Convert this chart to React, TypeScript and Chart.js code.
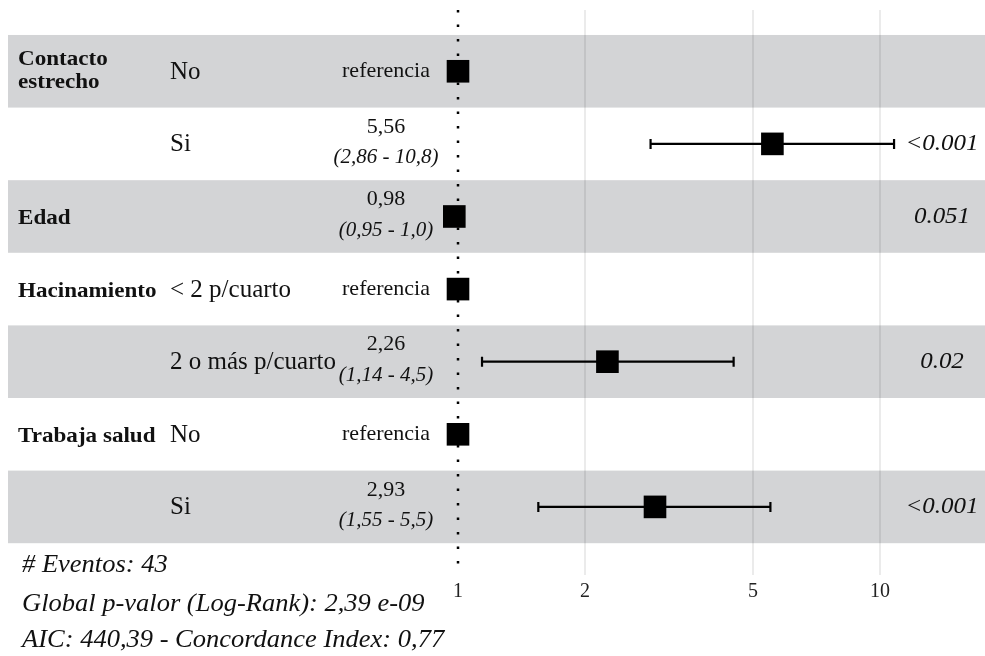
import React, { useEffect, useRef } from "react";
import { Chart, registerables } from "chart.js";

Chart.register(...registerables);

// ---- data ----
const variableNames = ["Contacto\nestrecho", "", "Edad", "Hacinamiento", "", "Trabaja salud", ""];
const levelNames = ["No", "Si", "", "< 2 p/cuarto", "2 o más p/cuarto", "No", "Si"];
const hazardRatios = [1, 5.56, 0.98, 1, 2.26, 1, 2.93];
const ciLower: (number | null)[] = [null, 2.86, 0.95, null, 1.14, null, 1.55];
const ciUpper: (number | null)[] = [null, 10.8, 1.0, null, 4.5, null, 5.5];
const estimateLabels = ["referencia", "5,56", "0,98", "referencia", "2,26", "referencia", "2,93"];
const ciLabels = ["", "(2,86 - 10,8)", "(0,95 - 1,0)", "", "(1,14 - 4,5)", "", "(1,55 - 5,5)"];
const pValueLabels = ["", "<0.001", "0.051", "", "0.02", "", "<0.001"];
const xTicks = [1, 2, 5, 10];
const footerLines = [
  "# Eventos: 43",
  "Global p-valor (Log-Rank): 2,39 e-09",
  "AIC: 440,39 - Concordance Index: 0,77",
];

// ---- layout / style ----
const SERIF = "'Liberation Serif', 'Times New Roman', serif";
const BAND = "rgb(211,212,214)";
const Y_MIN = -0.344;
const Y_MAX = 7.438;

function drawText(
  ctx: CanvasRenderingContext2D,
  s: string,
  x: number,
  y: number,
  font: string,
  align: CanvasTextAlign,
  sx = 1
) {
  ctx.save();
  ctx.font = font;
  ctx.textAlign = align;
  ctx.textBaseline = "middle";
  ctx.fillStyle = "#111";
  ctx.translate(x, y);
  ctx.scale(sx, 1);
  ctx.fillText(s, 0, 0);
  ctx.restore();
}

const forestPlugin = {
  id: "forest",
  beforeDraw(chart: any) {
    const { ctx, chartArea, scales } = chart;
    const y = scales.y;
    ctx.save();
    ctx.fillStyle = "#fff";
    ctx.fillRect(0, 0, chart.width, chart.height);
    ctx.fillStyle = BAND;
    for (let i = 0; i < hazardRatios.length; i++) {
      if (i % 2 !== 0) continue;
      const top = y.getPixelForValue(i);
      const bot = y.getPixelForValue(i + 1);
      ctx.fillRect(chartArea.left, top, chartArea.right - chartArea.left, bot - top);
    }
    ctx.restore();
  },
  beforeDatasetsDraw(chart: any) {
    const { ctx, scales } = chart;
    const x = scales.x;
    const y = scales.y;
    ctx.save();
    ctx.strokeStyle = "#000";
    ctx.lineWidth = 2.2;
    for (let i = 0; i < hazardRatios.length; i++) {
      const lo = ciLower[i];
      const hi = ciUpper[i];
      if (lo == null || hi == null) continue;
      const yc = y.getPixelForValue(i + 0.5);
      const x0 = x.getPixelForValue(lo);
      const x1 = x.getPixelForValue(hi);
      ctx.beginPath();
      ctx.moveTo(x0, yc);
      ctx.lineTo(x1, yc);
      ctx.moveTo(x0, yc - 5);
      ctx.lineTo(x0, yc + 5);
      ctx.moveTo(x1, yc - 5);
      ctx.lineTo(x1, yc + 5);
      ctx.stroke();
    }
    ctx.restore();
  },
  afterDraw(chart: any) {
    const { ctx, scales } = chart;
    const y = scales.y;
    for (let i = 0; i < hazardRatios.length; i++) {
      const yc = y.getPixelForValue(i + 0.5);
      // variable names
      const vn = variableNames[i];
      if (vn) {
        const parts = vn.split("\n");
        parts.forEach((p, k) => {
          const off = parts.length > 1 ? (k - (parts.length - 1) / 2) * 23 : 2;
          drawText(ctx, p, 18, yc + off, `bold 21px ${SERIF}`, "left", 1.1);
        });
      }
      // level names
      if (levelNames[i]) {
        drawText(ctx, levelNames[i], 170, yc + 1, `25px ${SERIF}`, "left");
      }
      // estimate column
      if (ciLabels[i]) {
        drawText(ctx, estimateLabels[i], 386, yc - 17, `22px ${SERIF}`, "center");
        drawText(ctx, ciLabels[i], 386, yc + 14, `italic 21px ${SERIF}`, "center");
      } else {
        drawText(ctx, estimateLabels[i], 386, yc, `22px ${SERIF}`, "center");
      }
      // p-values
      if (pValueLabels[i]) {
        drawText(ctx, pValueLabels[i], 942, yc, `italic 24px ${SERIF}`, "center", 1.04);
      }
    }
    // footer
    const footerY = [565, 604, 640];
    footerLines.forEach((line, k) => {
      drawText(ctx, line, 22, footerY[k], `italic 25px ${SERIF}`, "left", 1.06);
    });
  },
};

export default function App() {
  const canvasRef = useRef<HTMLCanvasElement | null>(null);

  useEffect(() => {
    const canvas = canvasRef.current;
    if (!canvas) return;
    const chart = new Chart(canvas, {
      type: "scatter",
      data: {
        datasets: [
          {
            type: "line",
            data: [
              { x: 1, y: Y_MIN },
              { x: 1, y: Y_MAX },
            ],
            borderColor: "#000",
            borderWidth: 2.5,
            borderDash: [2.5, 12],
            pointRadius: 0,
            order: 2,
          } as any,
          {
            type: "scatter",
            data: hazardRatios.map((hr, i) => ({ x: hr, y: i + 0.5 })),
            pointStyle: "rect",
            pointRadius: 16,
            pointHoverRadius: 16,
            backgroundColor: "#000",
            borderColor: "#000",
            borderWidth: 0,
            order: 0,
          } as any,
        ],
      },
      options: {
        animation: false,
        responsive: true,
        maintainAspectRatio: false,
        layout: { autoPadding: false, padding: { left: 8, top: 10, right: 0, bottom: 0 } },
        plugins: {
          legend: { display: false },
          tooltip: { enabled: false },
        },
        events: [],
        scales: {
          x: {
            type: "logarithmic",
            min: 0.0858,
            max: 17.74,
            afterBuildTicks: (scale: any) => {
              scale.ticks = xTicks.map((v) => ({ value: v }));
            },
            afterFit: (scale: any) => {
              scale.height = 81;
            },
            ticks: {
              autoSkip: false,
              maxRotation: 0,
              padding: 5,
              color: "#222",
              font: { family: SERIF, size: 20 },
              callback: (v: any) => (xTicks.includes(Number(v)) ? String(v) : ""),
            },
            grid: {
              drawTicks: false,
              lineWidth: 2,
              color: (c: any) => (c.tick && c.tick.value === 1 ? "rgba(0,0,0,0)" : "rgba(0,0,0,0.08)"),
            },
            border: { display: false },
          },
          y: {
            type: "linear",
            display: false,
            reverse: true,
            min: Y_MIN,
            max: Y_MAX,
          },
        },
      },
      plugins: [forestPlugin],
    });
    return () => chart.destroy();
  }, []);

  return (
    <div style={{ position: "fixed", left: 0, top: 0, width: 985, height: 656, background: "#fff" }}>
      <canvas ref={canvasRef} />
    </div>
  );
}
